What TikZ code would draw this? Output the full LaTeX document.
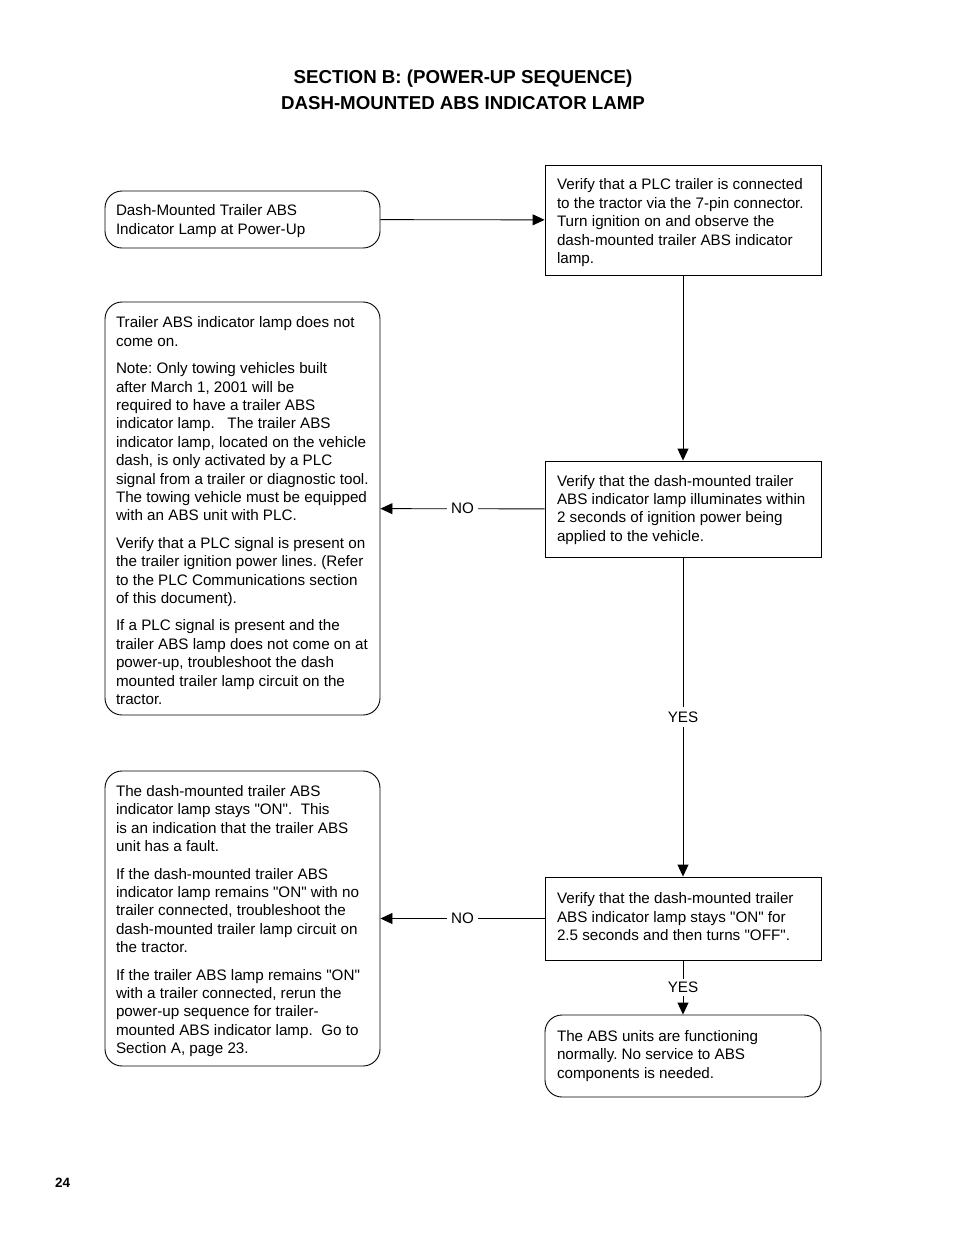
\documentclass[tikz,border=0pt]{standalone}
\usepackage{fontspec}
\setmainfont{Liberation Sans}[Ligatures=TeXOff]
\usetikzlibrary{arrows.meta,shadows}
\newcommand\flowtext[3][-3pt]{\raisebox{#1}[\height][\depth]{\makebox[#2][l]{\begin{tabular}{@{}l@{}}#3\end{tabular}}}}
\frenchspacing
\begin{document}
\begin{tikzpicture}[x=1pt,y=-1pt,
  txt/.style={font=\fontsize{15.2}{18.4}\selectfont\frenchspacing, inner sep=0pt},
  roundbox/.style={txt, draw, line width=0.9pt, rounded corners=17pt, fill=white},
  rectbox/.style={txt, draw, line width=0.9pt, fill=white,
    drop shadow={shadow xshift=1.3pt, shadow yshift=-1.3pt, opacity=1, fill=black}},
  flow/.style={line width=0.9pt, -{Triangle[length=12pt,width=11pt]}},
  lab/.style={font=\fontsize{15.2}{17}\selectfont, fill=white, inner xsep=4pt, inner ysep=5pt}
]
\useasboundingbox (0,0) rectangle (954,1235);

\node[font=\bfseries\fontsize{18.7}{26}\selectfont, align=center] (title) at (463,90)
  {SECTION B: (POWER-UP SEQUENCE)\\DASH-MOUNTED ABS INDICATOR LAMP};

\node[roundbox, minimum width=275pt, minimum height=57pt] (a) at (242.5,219.5)
  {\flowtext[-2pt]{253pt}{Dash-Mounted Trailer ABS\\Indicator Lamp at Power-Up}};

\node[rectbox, minimum width=276pt, minimum height=110pt] (b) at (683,220)
  {\flowtext{252pt}{Verify that a PLC trailer is connected\\to the tractor via the 7-pin connector.\\Turn ignition on and observe the\\dash-mounted trailer ABS indicator\\lamp.}};

\node[roundbox, minimum width=275pt, minimum height=413pt] (c) at (242.5,508.5)
  {\flowtext[-4pt]{253pt}{Trailer ABS indicator lamp does not\\come on.\\[9pt]
  Note: Only towing vehicles built\\after March 1, 2001 will be\\required to have a trailer ABS\\indicator lamp.\ \ \ The trailer ABS\\indicator lamp, located on the vehicle\\dash, is only activated by a PLC\\signal from a trailer or diagnostic tool.\\The towing vehicle must be equipped\\with an ABS unit with PLC.\\[9pt]
  Verify that a PLC signal is present on\\the trailer ignition power lines. (Refer\\to the PLC Communications section\\of this document).\\[9pt]
  If a PLC signal is present and the\\trailer ABS lamp does not come on at\\power-up, troubleshoot the dash\\mounted trailer lamp circuit on the\\tractor.}};

\node[rectbox, minimum width=276pt, minimum height=96pt] (d) at (683,509)
  {\flowtext[-1pt]{252pt}{Verify that the dash-mounted trailer\\ABS indicator lamp illuminates within\\2 seconds of ignition power being\\applied to the vehicle.}};

\node[roundbox, minimum width=275pt, minimum height=295pt] (e) at (242.5,918.5)
  {\flowtext{253pt}{The dash-mounted trailer ABS\\indicator lamp stays "ON".\ \ This\\is an indication that the trailer ABS\\unit has a fault.\\[9pt]
  If the dash-mounted trailer ABS\\indicator lamp remains "ON" with no\\trailer connected, troubleshoot the\\dash-mounted trailer lamp circuit on\\the tractor.\\[9pt]
  If the trailer ABS lamp remains "ON"\\with a trailer connected, rerun the\\power-up sequence for trailer-\\mounted ABS indicator lamp.\ \ Go to\\Section A, page 23.}};

\node[rectbox, minimum width=276pt, minimum height=83pt] (f) at (683,918.5)
  {\flowtext[0pt]{252pt}{Verify that the dash-mounted trailer\\ABS indicator lamp stays "ON" for\\2.5 seconds and then turns "OFF".}};

\node[roundbox, minimum width=276pt, minimum height=82pt] (g) at (683,1056)
  {\flowtext[0pt]{252pt}{The ABS units are functioning\\normally. No service to ABS\\components is needed.}};

\node[font=\bfseries\fontsize{13.5}{15}\selectfont, anchor=west, inner sep=0pt] (pg) at (55,1183) {24};

\draw[flow] (a) -- (b);
\draw[flow] (b) -- (d);
\draw[flow] (d) -- node[lab] {NO} (c);
\draw[flow] (d) -- node[lab] {YES} (f);
\draw[flow] (f) -- node[lab] {NO} (e);
\draw[flow] (f) -- node[lab, inner ysep=3pt] {YES} (g);
\end{tikzpicture}
\end{document}
